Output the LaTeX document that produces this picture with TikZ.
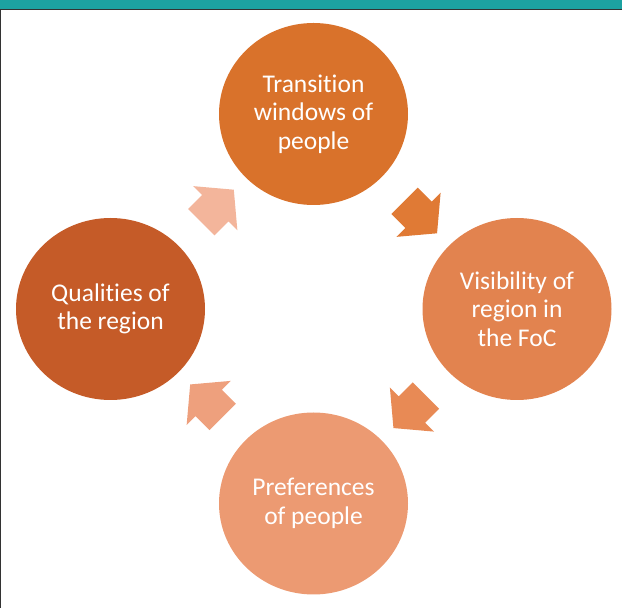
\documentclass[tikz,border=0pt]{standalone}
\usepackage{fontspec}
\setmainfont{Carlito}[Ligatures={NoCommon}]
\usetikzlibrary{shapes.geometric,shapes.arrows,calc}

\definecolor{barteal}{HTML}{1CA2A1}
\definecolor{stageA}{HTML}{D9722B}
\definecolor{stageB}{HTML}{E2834F}
\definecolor{stageC}{HTML}{EC9A72}
\definecolor{stageD}{HTML}{C55B28}
\definecolor{turnA}{HTML}{E07A35}
\definecolor{turnB}{HTML}{E88A55}
\definecolor{turnC}{HTML}{EEA07D}
\definecolor{turnD}{HTML}{F3B59B}

\begin{document}
\begin{tikzpicture}[x=1pt, y=1pt,
    stage/.style={ellipse, minimum width=189pt, minimum height=182pt, inner sep=0pt,
                  text=white, align=center, font=\fontsize{25.5}{28.5}\selectfont},
    turn/.style={single arrow, inner xsep=0pt, inner ysep=18.5pt, minimum height=46pt,
                 single arrow head extend=12.5pt, single arrow tip angle=100}]
    \useasboundingbox (0,0) rectangle (622,608);

    % Slide frame: teal bar on top, thin rule on the left
    \fill[barteal] (0,599) rectangle (622,608);
    \draw[black!80, line width=1pt] (0,598.5) -- (622,598.5);
    \draw[black!80, line width=1.2pt] (0.6,0) -- (0.6,598.5);

    % The four stages of the cycle
    \node[stage, fill=stageA] (trans) at (313.5,494) {Transition\\windows of\\people};
    \node[stage, fill=stageB] (vis) at (517,299) {Visibility of\\region in\\the FoC};
    \node[stage, fill=stageC] (pref) at (313.5,104.5) {Preferences\\of people};
    \node[stage, fill=stageD] (qual) at (110.5,299) {Qualities of\\the region};

    % Block arrows between neighbouring stages (clockwise)
    \node[turn, fill=turnA, rotate=-45] (ab) at ($(trans)!0.5!(vis)$) {};
    \node[turn, fill=turnB, rotate=-135] (bc) at ($(vis)!0.5!(pref)$) {};
    \node[turn, fill=turnC, rotate=135] (cd) at ($(pref)!0.5!(qual)$) {};
    \node[turn, fill=turnD, rotate=45] (da) at ($(qual)!0.5!(trans)$) {};
\end{tikzpicture}
\end{document}
